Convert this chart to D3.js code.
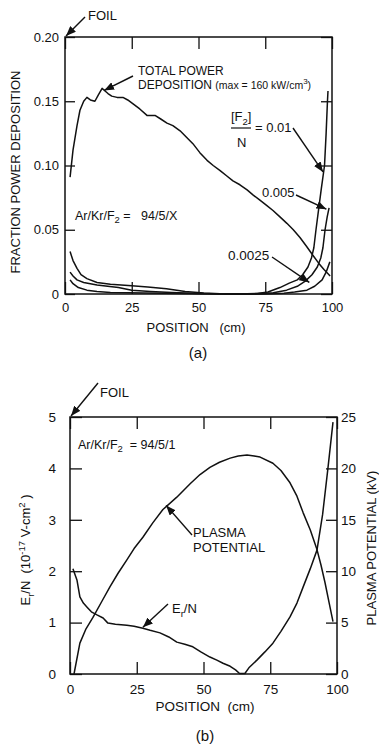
<!DOCTYPE html>
<html>
<head>
<meta charset="utf-8">
<script src="https://cdn.jsdelivr.net/npm/d3@7"></script>
<style>
  body { margin: 0; background: #fff; }
  text { font-family: "Liberation Sans", Arial, sans-serif; fill: #111; }
</style>
</head>
<body>
<script>
// ---- data ----
// (a) fraction of power deposited vs position [cm, fraction]
var totalPower = [[1.9,0.091],[3,0.112],[4.5,0.131],[5.6,0.143],[7,0.150],[8.2,0.153],[9.5,0.151],
  [11.2,0.150],[12.5,0.155],[13.9,0.160],[15,0.158],[16.1,0.156],[17.5,0.154],[19.5,0.153],[21.7,0.153],
  [23.5,0.151],[25.5,0.148],[28,0.144],[30.7,0.139],[33.7,0.139],[36,0.136],[38.2,0.133],[40.4,0.131],
  [43.1,0.127],[45.5,0.122],[47.9,0.117],[50.5,0.110],[53.2,0.104],[55.5,0.100],[58.1,0.096],[60.5,0.092],
  [62.9,0.088],[65.5,0.085],[68.2,0.081],[70.5,0.077],[73,0.073],[75.5,0.069],[77.9,0.065],[80.5,0.060],
  [83.1,0.055],[85.5,0.050],[88,0.044],[90.5,0.037],[92.9,0.030],[95,0.024],[97,0.019],[99.3,0.014]];
var f2_010 = [[1.9,0.033],[3,0.026],[4.5,0.020],[6,0.015],[8.2,0.012],[12,0.009],[17,0.0075],[25,0.0065],
  [31,0.0055],[38,0.004],[45,0.002],[52,0.0008],[58,0.0002],[65,0],[72,0.0004],[76,0.0015],[80.5,0.005],
  [84,0.0085],[87,0.011],[89,0.015],[91,0.021],[92.3,0.028],[93.2,0.036],[94,0.05],[95,0.066],[96,0.082],
  [97.2,0.10],[97.8,0.125],[98.3,0.15],[98.5,0.158]];
var f2_005 = [[1.9,0.017],[3,0.014],[4.5,0.011],[7,0.009],[12,0.007],[20,0.005],[25,0.003],[32,0.002],
  [40,0.0012],[50,0.0004],[60,0],[70,0],[78,0.001],[83,0.003],[87,0.006],[90,0.010],[92.5,0.015],
  [94.5,0.021],[95.8,0.028],[96.6,0.036],[97.4,0.05],[98.2,0.06],[98.9,0.067]];
var f2_0025 = [[1.9,0.011],[3,0.008],[5,0.005],[8.2,0.003],[12,0.002],[17,0.0012],[30,0.0008],[45,0.0004],
  [60,0],[75,0],[82,0.0005],[86,0.0015],[90.6,0.003],[93.5,0.006],[96.3,0.011],[97.8,0.017],[99.2,0.025]];

// (b) E/N [cm, 1e-17 V cm^2] and plasma potential [cm, kV]
var eOverN = [[1.1,2.05],[2.6,1.83],[3.7,1.50],[5,1.38],[6.4,1.30],[8,1.21],[10.1,1.15],[12.4,1.09],
  [14.2,0.99],[17,0.97],[21.3,0.95],[24,0.93],[27.3,0.89],[30,0.85],[33.7,0.80],[37,0.72],[40,0.62],
  [43,0.58],[46,0.53],[49,0.43],[52.4,0.33],[55,0.27],[57.3,0.21],[60,0.15],[62,0.08],[63.5,0.01],
  [65.5,0.01],[67,0.12],[70,0.27],[73,0.43],[76,0.6],[79,0.83],[82.4,1.11],[85,1.38],[87.3,1.69],
  [90,2.05],[92.5,2.41],[94.6,3.1],[96.6,4.0],[98.5,4.9]];
var plasmaPot = [[1.5,0],[3.7,3.0],[6,4.4],[8.6,5.5],[12,7.1],[15,8.5],[18,9.8],[21.3,11.1],[24,12.2],
  [27.3,13.3],[31,14.7],[34.8,16.0],[40,17.2],[45,18.5],[48.7,19.4],[52.4,20.1],[56,20.6],[60,21.0],
  [63,21.2],[66.3,21.3],[69,21.2],[71.2,21.1],[76,20.5],[79,19.8],[82.4,18.6],[85,17.3],[87.3,15.7],
  [90,14.0],[92.5,12.1],[94,10.6],[95.5,8.9],[97,7.0],[98.5,5.1]];

var posTicks = [0, 25, 50, 75, 100];
var fracTicks = [0, 0.05, 0.10, 0.15, 0.20];
var enTicks = [0, 1, 2, 3, 4, 5];
var kvTicks = [0, 5, 10, 15, 20, 25];

// ---- svg ----
var svg = d3.select("body").append("svg")
  .attr("width", 379)
  .attr("height", 745);

svg.append("defs").append("marker")
  .attr("id", "arrow")
  .attr("markerUnits", "userSpaceOnUse")
  .attr("markerWidth", 11).attr("markerHeight", 8)
  .attr("refX", 10).attr("refY", 4)
  .attr("orient", "auto")
  .append("path")
  .attr("d", "M0,0 L10,4 L0,8 Z")
  .attr("fill", "#111");

function styleAxis(g, size) {
  g.select(".domain").remove();
  g.selectAll("line").attr("stroke", "#111").attr("stroke-width", 1.3);
  g.selectAll("text")
    .attr("font-family", "Liberation Sans, Arial, sans-serif")
    .attr("font-size", size)
    .attr("fill", "#111");
}

function arrow(x1, y1, x2, y2) {
  svg.append("line")
    .attr("x1", x1).attr("y1", y1).attr("x2", x2).attr("y2", y2)
    .attr("stroke", "#111").attr("stroke-width", 1.4)
    .attr("marker-end", "url(#arrow)");
}

// =========== (a) ===========
var xA = d3.scaleLinear().domain([0, 100]).range([65, 332]);
var yA = d3.scaleLinear().domain([0, 0.2]).range([294, 37]);

svg.append("g").attr("transform", "translate(65,0)")
  .call(d3.axisLeft(yA).tickValues(fracTicks).tickSizeInner(-10).tickSizeOuter(0).tickPadding(6)
    .tickFormat(function(d) { return d === 0 ? "0" : d3.format(".2f")(d); }))
  .call(styleAxis, 13);
svg.append("g").attr("transform", "translate(332,0)")
  .call(d3.axisRight(yA).tickValues(fracTicks).tickSizeInner(-11).tickSizeOuter(0).tickFormat(""))
  .call(styleAxis, 13);
svg.append("g").attr("transform", "translate(0,294)")
  .call(d3.axisBottom(xA).tickValues(posTicks).tickSizeInner(-12).tickSizeOuter(0).tickPadding(9))
  .call(styleAxis, 13);
svg.append("g").attr("transform", "translate(0,37)")
  .call(d3.axisTop(xA).tickValues(posTicks).tickSizeInner(-12).tickSizeOuter(0).tickFormat(""))
  .call(styleAxis, 13);

svg.append("rect")
  .attr("x", 65).attr("y", 37).attr("width", 267).attr("height", 257)
  .attr("fill", "none").attr("stroke", "#111").attr("stroke-width", 1.5);

var lineA = d3.line().x(function(d) { return xA(d[0]); }).y(function(d) { return yA(d[1]); });
[totalPower, f2_010, f2_005, f2_0025].forEach(function(s) {
  svg.append("path").datum(s)
    .attr("d", lineA)
    .attr("fill", "none").attr("stroke", "#111").attr("stroke-width", 1.5)
    .attr("stroke-linejoin", "round");
});

// labels (a)
svg.append("text").attr("x", 88).attr("y", 20).attr("font-size", 13).text("FOIL");
arrow(85, 17, xA(0) + 1, yA(0.2) - 1);

svg.append("text").attr("transform", "translate(20,172) rotate(-90)")
  .attr("text-anchor", "middle").attr("font-size", 13).text("FRACTION POWER DEPOSITION");

svg.append("text").attr("x", 196).attr("y", 332).attr("text-anchor", "middle")
  .attr("font-size", 13).style("white-space", "pre").text("POSITION   (cm)");
svg.append("text").attr("x", 198).attr("y", 358).attr("text-anchor", "middle")
  .attr("font-family", "Liberation Serif, serif").attr("font-size", 15).text("(a)");

svg.append("text").attr("x", 138).attr("y", 75).attr("font-size", 12).text("TOTAL POWER");
var dep = svg.append("text").attr("x", 138).attr("y", 89).attr("font-size", 12);
dep.append("tspan").text("DEPOSITION ");
dep.append("tspan").attr("font-size", 10.5).text("(max = 160 kW/cm");
dep.append("tspan").attr("font-size", 8).attr("dy", -5).text("3");
dep.append("tspan").attr("font-size", 10.5).attr("dy", 5).text(")");
arrow(133, 76, xA(13.9) + 2, yA(0.160) + 2);

var fr = svg.append("text").attr("x", 231).attr("y", 121).attr("font-size", 13);
fr.append("tspan").text("[F");
fr.append("tspan").attr("font-size", 9.5).attr("dy", 4).text("2");
fr.append("tspan").attr("dy", -4).text("]");
svg.append("line").attr("x1", 231).attr("x2", 251).attr("y1", 128).attr("y2", 128)
  .attr("stroke", "#111").attr("stroke-width", 1.2);
svg.append("text").attr("x", 237).attr("y", 147).attr("font-size", 13).text("N");
svg.append("text").attr("x", 255).attr("y", 132).attr("font-size", 13).text("= 0.01");
arrow(293, 128, xA(97.0) - 1, yA(0.095));

svg.append("text").attr("x", 262).attr("y", 197).attr("font-size", 13).text("0.005");
arrow(296, 195, xA(97.9), yA(0.066));

svg.append("text").attr("x", 228).attr("y", 260).attr("font-size", 13.5).text("0.0025");
arrow(272, 257, xA(91.5), yA(0.009));

var ar = svg.append("text").attr("x", 75).attr("y", 220).attr("font-size", 12.5)
  .style("white-space", "pre");
ar.append("tspan").text("Ar/Kr/F");
ar.append("tspan").attr("font-size", 9.5).attr("dy", 3).text("2");
ar.append("tspan").attr("dy", -3).text(" =   94/5/X");

// =========== (b) ===========
var xB = d3.scaleLinear().domain([0, 100]).range([70, 337]);
var yB = d3.scaleLinear().domain([0, 5]).range([674, 417]);
var yK = d3.scaleLinear().domain([0, 25]).range([674, 417]);

svg.append("g").attr("transform", "translate(70,0)")
  .call(d3.axisLeft(yB).tickValues(enTicks).tickSizeInner(-12).tickSizeOuter(0).tickPadding(14)
    .tickFormat(d3.format("d")))
  .call(styleAxis, 13.5);
svg.append("g").attr("transform", "translate(337,0)")
  .call(d3.axisRight(yK).tickValues(kvTicks).tickSizeInner(-11).tickSizeOuter(0).tickPadding(4)
    .tickFormat(d3.format("d")))
  .call(styleAxis, 13.5);
svg.append("g").attr("transform", "translate(0,674)")
  .call(d3.axisBottom(xB).tickValues(posTicks).tickSizeInner(-12).tickSizeOuter(0).tickPadding(10))
  .call(styleAxis, 13.5);
svg.append("g").attr("transform", "translate(0,417)")
  .call(d3.axisTop(xB).tickValues(posTicks).tickSizeInner(-12).tickSizeOuter(0).tickFormat(""))
  .call(styleAxis, 13.5);

svg.append("rect")
  .attr("x", 70).attr("y", 417).attr("width", 267).attr("height", 257)
  .attr("fill", "none").attr("stroke", "#111").attr("stroke-width", 1.5);

var lineE = d3.line().x(function(d) { return xB(d[0]); }).y(function(d) { return yB(d[1]); });
var lineK = d3.line().x(function(d) { return xB(d[0]); }).y(function(d) { return yK(d[1]); });
svg.append("path").datum(eOverN).attr("d", lineE)
  .attr("fill", "none").attr("stroke", "#111").attr("stroke-width", 1.5).attr("stroke-linejoin", "round");
svg.append("path").datum(plasmaPot).attr("d", lineK)
  .attr("fill", "none").attr("stroke", "#111").attr("stroke-width", 1.5).attr("stroke-linejoin", "round");

// labels (b)
svg.append("text").attr("x", 100).attr("y", 397).attr("font-size", 13).text("FOIL");
arrow(98, 383, xB(0) + 1, yB(5) - 1);

var ar2 = svg.append("text").attr("x", 78).attr("y", 449).attr("font-size", 12.5)
  .style("white-space", "pre");
ar2.append("tspan").text("Ar/Kr/F");
ar2.append("tspan").attr("font-size", 9.5).attr("dy", 3).text("2");
ar2.append("tspan").attr("dy", -3).text("  = 94/5/1");

svg.append("text").attr("x", 193).attr("y", 537).attr("font-size", 13).text("PLASMA");
svg.append("text").attr("x", 193).attr("y", 552).attr("font-size", 13).text("POTENTIAL");
arrow(192, 535, xB(36), yK(16.4));

var en = svg.append("text").attr("x", 172).attr("y", 613).attr("font-size", 13);
en.append("tspan").text("E");
en.append("tspan").attr("font-size", 9.5).attr("dy", 4).text("r");
en.append("tspan").attr("dy", -4).text("/N");
arrow(168, 604, xB(27.3), yB(0.89) - 1);

var yl = svg.append("text").attr("transform", "translate(30,550) rotate(-90)")
  .attr("text-anchor", "middle").attr("font-size", 13).style("white-space", "pre");
yl.append("tspan").text("E");
yl.append("tspan").attr("font-size", 9.5).attr("dy", 4).text("r");
yl.append("tspan").attr("dy", -4).text("/N  (10");
yl.append("tspan").attr("font-size", 9.5).attr("dy", -5).text("-17");
yl.append("tspan").attr("dy", 5).text(" V-cm");
yl.append("tspan").attr("font-size", 9.5).attr("dy", -5).text("2");
yl.append("tspan").attr("dy", 5).text(" )");

svg.append("text").attr("transform", "translate(376,548) rotate(-90)")
  .attr("text-anchor", "middle").attr("font-size", 13).text("PLASMA POTENTIAL (kV)");

svg.append("text").attr("x", 205).attr("y", 711).attr("text-anchor", "middle")
  .attr("font-size", 13.5).style("white-space", "pre").text("POSITION  (cm)");
svg.append("text").attr("x", 205).attr("y", 741).attr("text-anchor", "middle")
  .attr("font-family", "Liberation Serif, serif").attr("font-size", 15).text("(b)");
</script>
</body>
</html>
